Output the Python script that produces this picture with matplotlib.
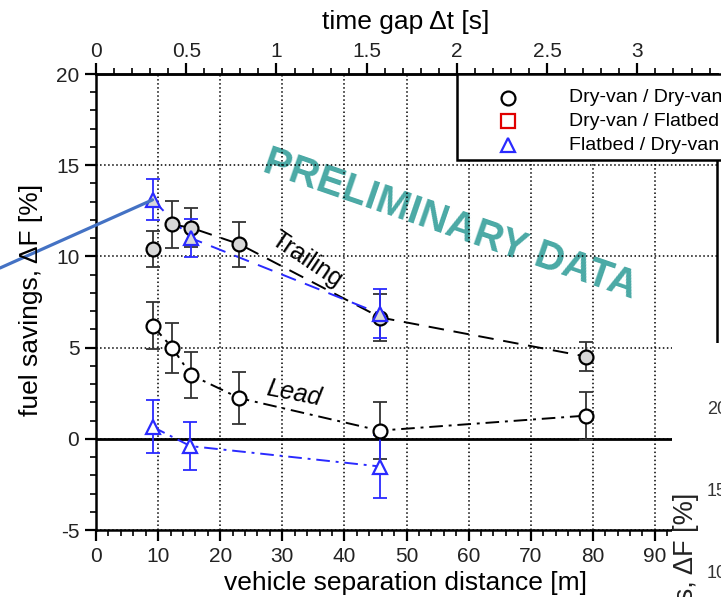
import matplotlib.pyplot as plt
from matplotlib.patches import Rectangle
from matplotlib.lines import Line2D
from matplotlib.ticker import MultipleLocator, FixedLocator, FuncFormatter

plt.rcParams['font.family'] = ['Liberation Sans', 'DejaVu Sans']
plt.rcParams['axes.unicode_minus'] = False

# Dry-van / Dry-van (grey = trailing truck, white = lead truck)
dv_trail_x = [9.2, 12.3, 15.3, 23.1, 45.8, 78.9]
dv_trail_y = [10.4, 11.75, 11.57, 10.67, 6.65, 4.51]
dv_trail_err = [1.0, 1.3, 1.07, 1.23, 1.28, 0.77]
dv_lead_x = [9.1, 12.3, 15.3, 23.1, 45.7, 78.9]
dv_lead_y = [6.21, 4.98, 3.5, 2.23, 0.45, 1.27]
dv_lead_err = [1.31, 1.38, 1.28, 1.41, 1.58, 1.32]

# Flatbed / Dry-van
fb_trail_x = [9.1, 15.3, 45.8]
fb_trail_y = [13.1, 11.0, 6.85]
fb_trail_err = [1.13, 1.05, 1.35]
fb_lead_x = [9.1, 15.2, 45.8]
fb_lead_y = [0.66, -0.4, -1.52]
fb_lead_err = [1.44, 1.3, 1.75]

legend_labels = ['Dry-van / Dry-van', 'Dry-van / Flatbed', 'Flatbed / Dry-van']
SPEED = 29.06  # m/s, converts separation to time gap

W, H = 721, 597
def fx(px):
    return px / W
def fy(py):
    return 1 - py / H

fig = plt.figure(figsize=(W / 100, H / 100), dpi=100)
ax = fig.add_axes([fx(96), fy(530), 621 / W, 456 / H])
ax.set_xlim(0, 100)
ax.set_ylim(-5, 20)

blue = '#2a2aff'
dark = '#333333'

ax.grid(True, which='major', linestyle=':', color='black', lw=1.1)
ax.set_axisbelow(True)
ax.axhline(0, color='black', lw=2, zorder=2)

fig.text(fx(450), fy(225), 'PRELIMINARY DATA', fontsize=29,
         fontweight='bold', color='#4aa9a5', rotation=-19,
         ha='center', va='center', rotation_mode='anchor', zorder=-1)

# connecting lines
ax.plot(dv_trail_x[1:], dv_trail_y[1:], color='black', lw=1.4,
        dashes=(8, 5), zorder=3)
ax.plot(dv_lead_x, dv_lead_y, color='black', lw=1.4,
        dashes=(7, 3, 1.5, 3), zorder=3)
ax.plot(fb_trail_x, fb_trail_y, color=blue, lw=1.4, dashes=(8, 5), zorder=3)
ax.plot(fb_lead_x, fb_lead_y, color=blue, lw=1.4,
        dashes=(7, 3, 1.5, 3), zorder=3)

# error bars
for x, y, e, c in [(dv_trail_x, dv_trail_y, dv_trail_err, dark),
                   (dv_lead_x, dv_lead_y, dv_lead_err, dark),
                   (fb_trail_x, fb_trail_y, fb_trail_err, blue),
                   (fb_lead_x, fb_lead_y, fb_lead_err, blue)]:
    ax.errorbar(x, y, yerr=e, fmt='none', ecolor=c, elinewidth=1.3,
                capsize=4.8, capthick=1.3, zorder=4)

ax.plot(dv_trail_x, dv_trail_y, 'o', ms=10, mfc='#d8d8d8', mec='black',
        mew=1.6, zorder=5)
ax.plot(dv_lead_x, dv_lead_y, 'o', ms=10, mfc='white', mec='black',
        mew=1.6, zorder=5)
ax.plot(fb_trail_x, fb_trail_y, '^', ms=10, mfc='#d8d8d8', mec=blue,
        mew=1.6, zorder=6)
ax.plot(fb_lead_x, fb_lead_y, '^', ms=10, mfc='white', mec=blue,
        mew=1.6, zorder=6)

ax.text(33.9, 9.8, 'Trailing', fontsize=18, rotation=-34,
        ha='center', va='center', rotation_mode='anchor', zorder=7)
ax.text(31.8, 2.5, 'Lead', fontsize=18, style='italic', rotation=-11,
        ha='center', va='center', rotation_mode='anchor', zorder=7)

# axes styling
ax.patch.set_alpha(0)
for s in ax.spines.values():
    s.set_linewidth(1.8)
ax.xaxis.set_major_locator(FixedLocator(range(0, 100, 10)))
ax.xaxis.set_minor_locator(MultipleLocator(2))
ax.yaxis.set_major_locator(MultipleLocator(5))
ax.yaxis.set_minor_locator(MultipleLocator(1))
ax.tick_params(which='major', direction='out', length=8, width=1.6,
               labelsize=15, pad=4, labelcolor='#222222')
ax.tick_params(which='minor', direction='out', length=4.5, width=1.2)
ax.tick_params(top=False, right=False, which='both')

sec = ax.secondary_xaxis('top', functions=(lambda m: m / SPEED,
                                           lambda s: s * SPEED))
sec.xaxis.set_major_locator(MultipleLocator(0.5))
sec.xaxis.set_minor_locator(MultipleLocator(0.1))
sec.xaxis.set_major_formatter(FuncFormatter(lambda v, p: '%g' % v))
sec.tick_params(which='major', direction='out', length=8, width=1.6,
                labelsize=15, pad=1, labelcolor='#222222')
sec.tick_params(which='minor', direction='out', length=4.5, width=1.2)
sec.spines['top'].set_linewidth(1.8)

fig.text(fx(406), fy(590), 'vehicle separation distance [m]', fontsize=19,
         ha='center', va='baseline')
fig.text(fx(406), fy(29), 'time gap \u0394t [s]', fontsize=19,
         ha='center', va='baseline')
fig.text(fx(31), fy(300), 'fuel savings, \u0394F [%]', fontsize=19,
         rotation=90, ha='center', va='center')

# legend box
fig.add_artist(Rectangle((fx(457), fy(160)), 1.0, fy(74) - fy(160),
                         transform=fig.transFigure, facecolor='white',
                         edgecolor='black', lw=1.8, zorder=5))
leg_marks = [('o', 'black'), ('s', '#e00000'), ('^', blue)]
for i, (lab, (m, c)) in enumerate(zip(legend_labels, leg_marks)):
    yy = fy(98 + 23.5 * i)
    fig.add_artist(Line2D([fx(508)], [yy], marker=m, ms=10, mfc='none',
                          mec=c, mew=1.6, ls='none',
                          transform=fig.transFigure, zorder=6))
    fig.text(fx(569), yy, lab, fontsize=14, va='center', zorder=6)

# pointer line coming from outside the chart
ax.annotate('', xy=(fb_trail_x[0], fb_trail_y[0]), xycoords='data',
            xytext=(0, fy(268)), textcoords='figure fraction',
            arrowprops=dict(arrowstyle='-', color='#4472c4', lw=2.3,
                            shrinkA=0, shrinkB=0), zorder=20,
            annotation_clip=False)

# overlapping fragment of another picture (bottom right)
fig.add_artist(Rectangle((fx(672), 0), 1.0, fy(343),
                         transform=fig.transFigure, facecolor='white',
                         edgecolor='none', zorder=10))
for lab, py in [('20', 410), ('15', 492), ('10', 573)]:
    fig.text(fx(707), fy(py), lab, fontsize=13, color='#333333',
             va='center', zorder=11)
fig.text(fx(686), fy(493), 'savings, \u0394F [%]', fontsize=19.5, rotation=90,
         ha='center', va='top', color='#222222', zorder=11)

fig.savefig('out.png', dpi=100)
